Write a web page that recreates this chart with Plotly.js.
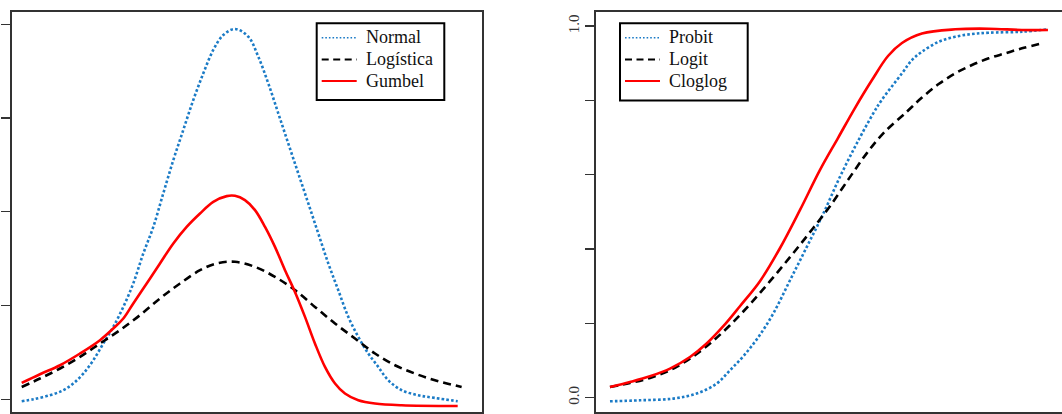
<!DOCTYPE html>
<html>
<head>
<meta charset="utf-8">
<script src="https://cdn.plot.ly/plotly-3.0.1.min.js"></script>
<style>
  html, body { margin: 0; padding: 0; background: #ffffff; }
  #chart { width: 1062px; height: 414px; }
</style>
</head>
<body>
<div id="chart"></div>
<script>
// Left panel: latent densities (Normal, Logística, Gumbel)
const normalX = [-3.096, -2.949, -2.738, -2.570, -2.443, -2.316, -2.190, -2.063, -1.937, -1.810,
  -1.684, -1.557, -1.430, -1.304, -1.177, -1.051, -0.924, -0.797, -0.671, -0.544, -0.396,
  -0.228, -0.101, 0.025, 0.152, 0.278, 0.405, 0.532, 0.658, 0.785, 0.911, 1.038, 1.165,
  1.291, 1.418, 1.544, 1.714, 1.924, 2.135, 2.423];
const normalY = [-0.0021, 0.0000, 0.0043, 0.0096, 0.0168, 0.0274, 0.0416, 0.0595, 0.0772, 0.0985,
  0.1235, 0.1555, 0.1839, 0.2196, 0.2551, 0.2872, 0.3192, 0.3477, 0.3726, 0.3886, 0.3950,
  0.3868, 0.3654, 0.3370, 0.3050, 0.2730, 0.2409, 0.2089, 0.1769, 0.1449, 0.1164, 0.0879,
  0.0665, 0.0488, 0.0345, 0.0203, 0.0096, 0.0043, 0.0014, -0.0021];

const logisticX = [-3.096, -2.865, -2.611, -2.358, -2.105, -1.852, -1.599, -1.346, -1.092, -0.839,
  -0.628, -0.396, -0.143, 0.110, 0.363, 0.616, 0.870, 1.123, 1.376, 1.629, 1.882, 2.135, 2.473];
const logisticY = [0.0131, 0.0221, 0.0328, 0.0452, 0.0595, 0.0737, 0.0897, 0.1075, 0.1235, 0.1377,
  0.1449, 0.1466, 0.1412, 0.1306, 0.1164, 0.0985, 0.0808, 0.0648, 0.0488, 0.0363, 0.0274, 0.0203, 0.0131];

const gumbelX = [-3.096, -2.865, -2.611, -2.358, -2.105, -1.937, -1.810, -1.684, -1.514, -1.346,
  -1.177, -1.008, -0.839, -0.671, -0.501, -0.396, -0.270, -0.143, -0.016, 0.110, 0.237, 0.363,
  0.490, 0.616, 0.743, 0.870, 0.996, 1.165, 1.376, 1.714, 2.423];
const gumbelY = [0.0174, 0.0267, 0.0363, 0.0488, 0.0630, 0.0755, 0.0861, 0.1022, 0.1235, 0.1449,
  0.1662, 0.1839, 0.1982, 0.2106, 0.2167, 0.2170, 0.2124, 0.2018, 0.1839, 0.1626, 0.1377, 0.1145,
  0.0879, 0.0595, 0.0345, 0.0168, 0.0061, -0.0011, -0.0046, -0.0064, -0.0072];

// Right panel: link functions (Probit, Logit, Cloglog)
const probitX = [-3.019, -2.641, -2.221, -1.926, -1.673, -1.506, -1.338, -1.149, -0.960, -0.750,
  -0.538, -0.329, -0.120, 0.092, 0.301, 0.407, 0.663, 0.789, 0.915, 1.126, 1.335, 1.546, 1.757,
  2.176, 2.504];
const probitY = [-0.0100, -0.0073, -0.0027, 0.0108, 0.0377, 0.0735, 0.1112, 0.1624, 0.2262, 0.3151,
  0.4051, 0.4950, 0.5937, 0.6836, 0.7649, 0.8007, 0.8726, 0.9084, 0.9308, 0.9577, 0.9712, 0.9785,
  0.9820, 0.9846, 0.9911];

const logitX = [-3.019, -2.767, -2.515, -2.262, -2.010, -1.758, -1.506, -1.253, -1.001, -0.749,
  -0.497, -0.245, 0.007, 0.218, 0.427, 0.723, 0.915, 1.126, 1.335, 1.546, 1.757, 1.966, 2.176, 2.429];
const logitY = [0.0285, 0.0393, 0.0528, 0.0735, 0.1050, 0.1454, 0.1947, 0.2513, 0.3132, 0.3779,
  0.4452, 0.5152, 0.5933, 0.6572, 0.7110, 0.7692, 0.8074, 0.8438, 0.8726, 0.8950, 0.9130, 0.9265,
  0.9399, 0.9534];

const cloglogX = [-3.019, -2.767, -2.515, -2.262, -2.010, -1.800, -1.590, -1.380, -1.128, -0.876,
  -0.624, -0.372, -0.144, 0.070, 0.285, 0.487, 0.663, 0.915, 1.335, 1.757, 2.176, 2.504];
const cloglogY = [0.0285, 0.0420, 0.0574, 0.0781, 0.1093, 0.1454, 0.1920, 0.2459, 0.3132, 0.4019,
  0.5044, 0.6122, 0.6984, 0.7792, 0.8546, 0.9192, 0.9542, 0.9798, 0.9911, 0.9927, 0.9892, 0.9892];

// Axis ticks
const densXTicks = [-3, -2, -1, 0, 1, 2];
const densYTicks = [0, 0.1, 0.2, 0.3, 0.4];
const linkXTicks = [-3, -2, -1, 0, 1, 2];
const linkYTicks = [0, 0.2, 0.4, 0.6, 0.8, 1.0];
const linkYTickText = ['0.0', '', '', '', '', '1.0'];

// Legend entries for each panel
const densNames = ['Normal', 'Logística', 'Gumbel'];
const linkNames = ['Probit', 'Logit', 'Cloglog'];

const blue = '#1b7bc6';
const black = '#000000';
const red = '#ff0000';
const frame = '#333333';
const serif = 'Liberation Serif, Times New Roman, serif';

const styles = [
  {color: blue, width: 2.6, dash: '2.6px,2.2px', shape: 'spline', smoothing: 1},
  {color: black, width: 2.6, dash: '8px,5px', shape: 'spline', smoothing: 1},
  {color: red, width: 2.6, shape: 'spline', smoothing: 1}
];
// thinner strokes for the legend keys
const keyStyles = [
  {color: blue, width: 1.6, dash: '1.6px,2px'},
  {color: black, width: 2.2, dash: '7px,4.5px'},
  {color: red, width: 2.2, dash: 'solid'}
];

const densSeries = [[normalX, normalY], [logisticX, logisticY], [gumbelX, gumbelY]];
const linkSeries = [[probitX, probitY], [logitX, logitY], [cloglogX, cloglogY]];

const traces = [];
densSeries.forEach((s, i) => traces.push({
  x: s[0], y: s[1], name: densNames[i], mode: 'lines', line: styles[i], xaxis: 'x', yaxis: 'y'
}));
linkSeries.forEach((s, i) => traces.push({
  x: s[0], y: s[1], name: linkNames[i], mode: 'lines', line: styles[i], xaxis: 'x2', yaxis: 'y2'
}));

const W = 1062, H = 414, T = 12, B = 2;
const plotH = H - T - B;
const px = v => v / W;                  // pixel column -> paper x
const py = v => (H - B - v) / plotH;    // pixel row -> paper y

const axisBase = {
  showgrid: false, zeroline: false, showline: true, linecolor: frame, linewidth: 2,
  ticks: 'outside', tickcolor: frame, tickwidth: 1.3, fixedrange: true
};

// Boxed legend drawn with shapes + annotations
const shapes = [];
const annotations = [];
function addLegend(names, left, top, right, bottom) {
  shapes.push({
    type: 'rect', xref: 'paper', yref: 'paper',
    x0: px(left), x1: px(right), y0: py(bottom), y1: py(top),
    line: {color: '#000000', width: 2}, fillcolor: '#ffffff', layer: 'above'
  });
  const rows = [37.7, 59.5, 81];
  names.forEach((n, i) => {
    shapes.push({
      type: 'line', xref: 'paper', yref: 'paper',
      x0: px(left + 5), x1: px(left + 40), y0: py(rows[i]), y1: py(rows[i]),
      line: keyStyles[i], layer: 'above'
    });
    annotations.push({
      text: n, xref: 'paper', yref: 'paper', x: px(left + 47), y: py(rows[i] - 0.5),
      xanchor: 'left', yanchor: 'middle', showarrow: false,
      font: {family: serif, size: 18, color: '#111111'}
    });
  });
}
addLegend(densNames, 316.7, 23.3, 444.3, 100);
addLegend(linkNames, 620, 23.3, 747.7, 100.5);

const layout = {
  width: W, height: H,
  margin: {l: 0, r: 0, t: T, b: B, pad: 0},
  paper_bgcolor: '#ffffff', plot_bgcolor: '#ffffff',
  showlegend: false,
  xaxis: Object.assign({}, axisBase, {
    domain: [px(12), px(481.7)], range: [-3.219, 2.727], mirror: true,
    tickvals: densXTicks, showticklabels: false, ticklen: 6, anchor: 'y'
  }),
  yaxis: Object.assign({}, axisBase, {
    domain: [0, 1], range: [-0.0136, 0.4131], mirror: true,
    tickvals: densYTicks, showticklabels: false, ticklen: 9, anchor: 'x'
  }),
  xaxis2: Object.assign({}, axisBase, {
    domain: [px(595.7), 1], range: [-3.199, 2.681], mirror: true,
    tickvals: linkXTicks, showticklabels: false, ticklen: 6, anchor: 'y2'
  }),
  yaxis2: Object.assign({}, axisBase, {
    domain: [0, 1], range: [-0.0388, 1.0377], mirror: false,
    tickvals: linkYTicks, ticktext: linkYTickText, tickangle: -90, ticklen: 9,
    tickfont: {family: serif, size: 15, color: '#333333'}, anchor: 'x2'
  }),
  shapes: shapes,
  annotations: annotations
};

Plotly.newPlot('chart', traces, layout, {displayModeBar: false, staticPlot: true});
</script>
</body>
</html>
